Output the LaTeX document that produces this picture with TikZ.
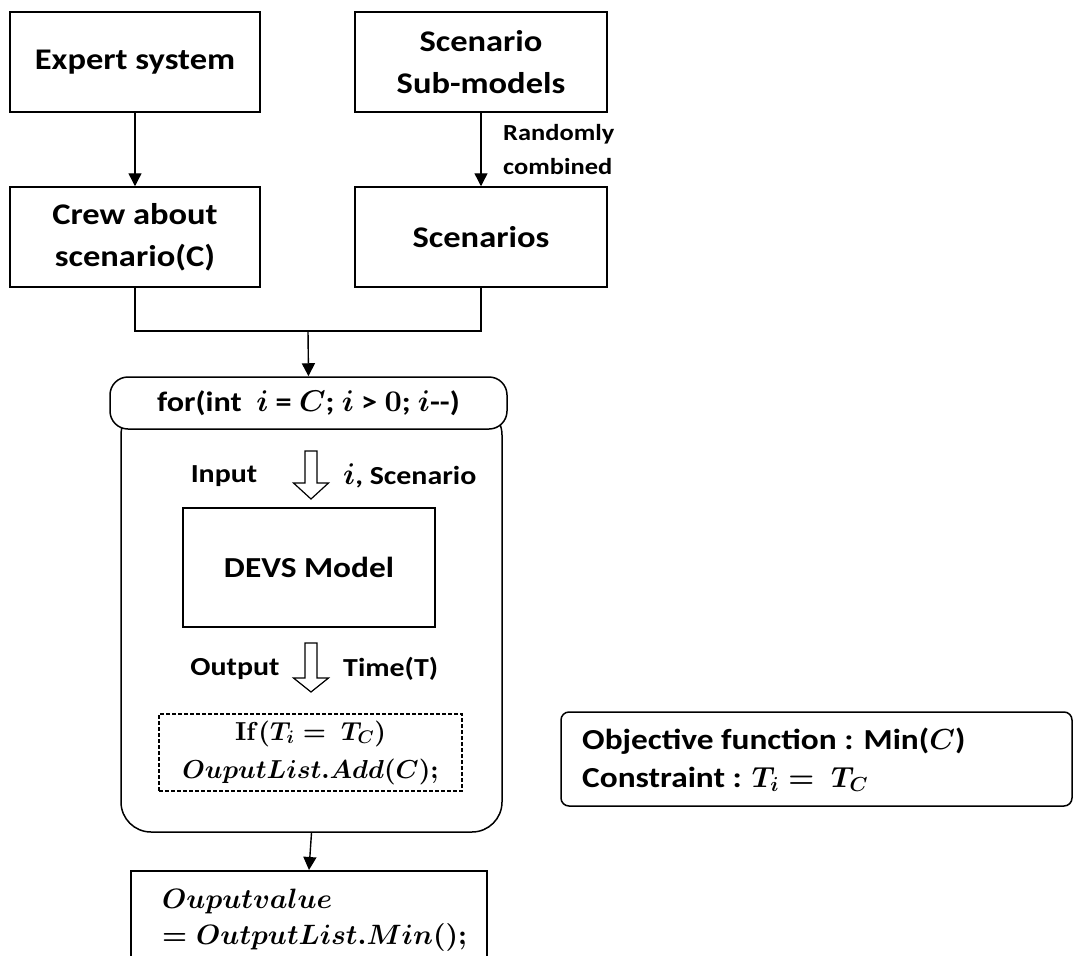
\documentclass[tikz,border=0pt]{standalone}
\usepackage{amsmath}
\usepackage[no-math]{fontspec}
\setmainfont{Carlito}[FakeStretch=1.15]
\usetikzlibrary{arrows.meta}
% freely scalable Computer Modern math shapes
\DeclareFontShape{OML}{cmm}{m}{it}{<->cmmi10}{}
\DeclareFontShape{OML}{cmm}{b}{it}{<->cmmib10}{}
\DeclareFontShape{OT1}{cmr}{m}{n}{<->cmr10}{}
\DeclareFontShape{OT1}{cmr}{bx}{n}{<->cmbx10}{}
\DeclareFontShape{OMS}{cmsy}{m}{n}{<->cmsy10}{}
\DeclareFontShape{OMS}{cmsy}{b}{n}{<->cmbsy10}{}
% math set at its own size inside bold text
\newcommand{\mathat}[2]{{\fontsize{#1}{#1}\selectfont\boldmath$#2$}}
\begin{document}
\begin{tikzpicture}[x=1pt,y=-1pt,
  every node/.style={font=\bfseries\boldmath, inner sep=0pt, align=center},
  box/.style={draw, line width=1.5pt, font=\fontsize{30}{42}\selectfont\bfseries},
  arr/.style={line width=1.4pt, -{Triangle[width=13pt,length=13pt]}},
  link/.style={line width=1.4pt},
  hollow/.style={draw, line width=1.2pt, fill=white, line join=miter},
  lbl/.style={font=\fontsize{26}{30}\selectfont\bfseries},
  objline/.style={font=\fontsize{29}{34}\selectfont\bfseries, anchor=base west},
]
\useasboundingbox (0,0) rectangle (1074,956);

% top row of sources
\node[box, minimum width=250, minimum height=100] (expert) at (135,62) {Expert system};
\node[box, minimum width=252, minimum height=100] (sub) at (481,62) {Scenario\\Sub-models};
\node[box, minimum width=250, minimum height=100] (crew) at (135,237) {Crew about\\scenario(C)};
\node[box, minimum width=252, minimum height=100] (scen) at (481,237) {Scenarios};

\draw[arr] (expert) -- (crew);
\draw[arr] (sub) -- (scen);
\node[font=\fontsize{23}{34}\selectfont\bfseries, align=left, anchor=west] (rc) at (503,150) {Randomly\\combined};

% loop body and header
\node[draw, line width=1.5pt, rounded corners=30pt, minimum width=381, minimum height=427] (loop) at (311.5,618.5) {};
\node[draw, line width=1.5pt, fill=white, rounded corners=18pt, minimum width=397, minimum height=52,
      font=\fontsize{28}{34}\selectfont\bfseries] (forbox) at (308.5,403)
      {for(int\ \ \mathat{30}{i} = \mathat{30}{C}; \mathat{30}{i} > \mathat{30}{0}; \mathat{30}{i}-{}-)};

\coordinate (join) at (308,331);
\draw[link] (crew.south) |- (join) -| (scen.south);
\draw[arr] (join) -- (forbox.north);

% input arrow
\node[lbl] (inlbl) at (224,476) {Input};
\node[lbl, anchor=west] (inval) at (343,476) {\mathat{30}{i}, Scenario};
\draw[hollow] (305,451) -- (317,451) -- (317,483) -- (328.5,483) -- (311,499) -- (293.5,483) -- (305,483) -- cycle;

\node[draw, line width=2.8pt, minimum width=252, minimum height=119,
      font=\fontsize{29}{34}\selectfont\bfseries] (devs) at (309,567.5) {DEVS Model};

% output arrow
\node[lbl] (outlbl) at (235,669) {Output};
\node[lbl, anchor=west] (outval) at (343,669) {Time(T)};
\draw[hollow] (305,643) -- (317,643) -- (317,678) -- (328.5,678) -- (311,692) -- (293.5,678) -- (305,678) -- cycle;

\node[draw, dash pattern=on 4pt off 2pt, line width=1.1pt, minimum width=303, minimum height=77,
      font=\fontsize{26}{34}\selectfont\bfseries\boldmath] (cond) at (310.5,752.5)
      {$\mathbf{If}(T_i =\ T_C)$\\[4pt] $OuputList.Add(C);$};

% result
\node[draw, line width=1.5pt, minimum width=356, minimum height=92, anchor=north] (res) at (309,870) {};
\node[font=\fontsize{28}{36}\selectfont\bfseries\boldmath, align=left, anchor=north west] (restxt) at (162,889)
      {$Ouputvalue$\\ $= OutputList.Min();$};
\draw[arr] (loop.south) -- (res.north);

% objective
\node[draw, line width=1.5pt, rounded corners=8pt, minimum width=511, minimum height=94] (obj) at (816.5,759) {};
\node[objline] (objfn) at (582,749) {Objective function : Min(\mathat{29}{C})};
\node[objline] (objcon) at (582,787) {Constraint : \mathat{29}{T_i =\ T_C}};
\end{tikzpicture}
\end{document}
